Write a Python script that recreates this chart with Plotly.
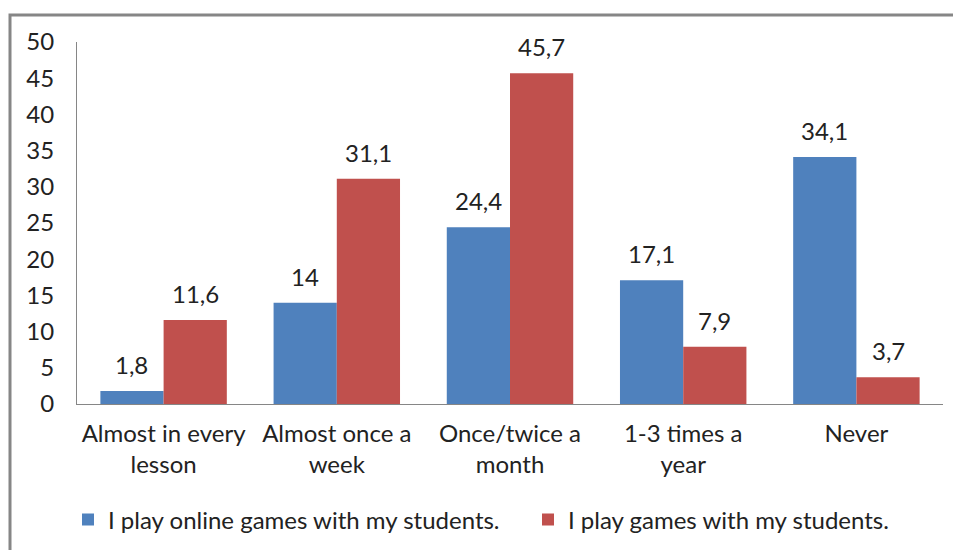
import plotly.graph_objects as go

categories = ["Almost in every<br>lesson", "Almost once a<br>week", "Once/twice a<br>month", "1-3 times a<br>year", "Never"]
online_games = [1.8, 14, 24.4, 17.1, 34.1]
games = [11.6, 31.1, 45.7, 7.9, 3.7]
series_names = ["I play online games with my students.", "I play games with my students."]
colors = ["#4F81BD", "#C0504D"]

def lbl(v):
    return f"{v:g}".replace(".", ",")

FONT = "Lato"
FS = 24
TXT = "#222222"
OFF = 8  # default page body margin
W, H = 961 - OFF, 550 - OFF
ML, MR, MT, MB = 77 - OFF, 18, 42 - OFF, 146
pw, ph = W - ML - MR, H - MT - MB
BARGAP = 0.27
bar_px = pw / len(categories) * (1 - BARGAP) / 2

def px_x(page_x):
    return (page_x - OFF - ML) / pw

def px_y(page_y):
    return (H - MB - (page_y - OFF)) / ph

fig = go.Figure()
annotations = []
for i, (name, vals, col, leg) in enumerate(zip(series_names, [online_games, games], colors, ["legend", "legend2"])):
    fig.add_trace(go.Bar(
        x=categories, y=vals, name=name, legend=leg,
        marker=dict(color=col, line=dict(width=0)),
    ))
    shift = (-0.5 if i == 0 else 0.5) * bar_px
    for c, v in zip(categories, vals):
        annotations.append(dict(x=c, y=v, xref="x", yref="y", text=lbl(v), showarrow=False,
                                xanchor="center", yanchor="bottom", xshift=shift, yshift=10,
                                font=dict(family=FONT, size=FS, color=TXT)))

legend_common = dict(orientation="h", xanchor="left", yanchor="middle", y=px_y(520),
                     font=dict(family=FONT, size=FS, color=TXT), itemwidth=30,
                     bgcolor="rgba(0,0,0,0)")

fig.update_layout(
    width=W, height=H, margin=dict(l=ML, r=MR, t=MT, b=MB, autoexpand=False),
    paper_bgcolor="white", plot_bgcolor="white",
    barmode="group", bargap=BARGAP, bargroupgap=0,
    font=dict(family=FONT, size=FS, color=TXT),
    showlegend=True,
    legend=dict(x=px_x(68), **legend_common),
    legend2=dict(x=px_x(528), **legend_common),
    annotations=annotations,
    xaxis=dict(showline=True, linecolor="#868686", linewidth=1, ticks="", showgrid=False,
               automargin=False, ticklabelstandoff=8,
               tickfont=dict(family=FONT, size=FS, color=TXT)),
    yaxis=dict(range=[0, 50], dtick=5, showline=True, linecolor="#868686", linewidth=1,
               ticks="", showgrid=False, zeroline=False, ticklabelstandoff=17, automargin=False,
               tickfont=dict(family=FONT, size=FS, color=TXT)),
    shapes=[dict(type="rect", xref="paper", yref="paper",
                 x0=px_x(10), x1=px_x(990),
                 y0=px_y(600), y1=px_y(15),
                 line=dict(color="#868686", width=3), fillcolor="rgba(0,0,0,0)", layer="below")],
)

fig.write_html("out.html")
